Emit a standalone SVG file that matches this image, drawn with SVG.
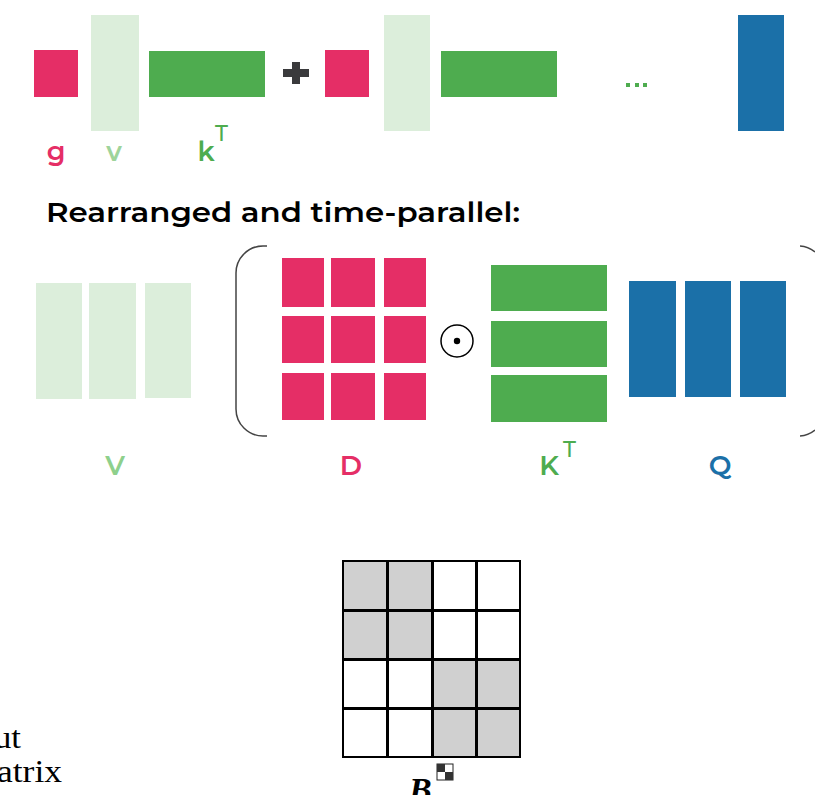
<svg xmlns="http://www.w3.org/2000/svg" width="815" height="795" viewBox="0 0 815 795">
<style>
.pk{fill:#E52E66}.lg{fill:#DCEEDB}.gr{fill:#4EAC4F}.bl{fill:#1B70A8}
.lab{font-family:"Montserrat","Open Sans","Liberation Sans",sans-serif;font-weight:600;font-size:27px;text-anchor:middle}
.sup{font-family:"Montserrat","Open Sans","Liberation Sans",sans-serif;font-weight:500;font-size:22px}
.cell{stroke:#000;stroke-width:2}
.ser{font-family:"Liberation Serif","DejaVu Serif",serif;font-size:32px;fill:#000}
</style>
<rect width="815" height="795" fill="#fff"/>
<g id="top-row">
  <rect class="pk" x="34" y="50" width="44" height="47"/>
  <rect class="lg" x="91" y="15" width="48" height="116"/>
  <rect class="gr" x="149" y="51" width="116" height="46"/>
  <path d="M292 62h8v7h9v8h-9v7h-8v-7h-9v-8h9z" fill="#3a3a3c"/>
  <rect class="pk" x="325" y="50" width="44" height="47"/>
  <rect class="lg" x="384" y="15" width="46" height="116"/>
  <rect class="gr" x="441" y="51" width="116" height="46"/>
  <rect class="gr" x="626" y="83" width="4" height="4"/>
  <rect class="gr" x="635" y="83" width="4" height="4"/>
  <rect class="gr" x="643" y="83" width="4" height="4"/>
  <rect class="bl" x="738" y="15" width="46" height="116"/>
  <text class="lab" x="56" y="161" fill="#E52E66">g</text>
  <text class="lab" x="114" y="161" fill="#9ED49B">v</text>
  <text class="lab" x="206" y="161" fill="#4EAC4F">k</text>
  <text class="sup" x="215" y="141" fill="#4EAC4F">T</text>
</g>
<text id="heading" x="46" y="222" font-family="Montserrat,'Open Sans','Liberation Sans',sans-serif" font-weight="600" font-size="27" fill="#000" textLength="474" lengthAdjust="spacingAndGlyphs">Rearranged and time-parallel:</text>
<g id="V">
  <rect class="lg" x="36" y="283" width="46" height="116"/>
  <rect class="lg" x="89" y="283" width="47" height="116"/>
  <rect class="lg" x="145" y="283" width="46" height="115"/>
  <text class="lab" x="115" y="475" fill="#8ED08C">V</text>
</g>
<g id="brackets" fill="none" stroke="#444" stroke-width="1.5">
  <path d="M267 246h-4a27 27 0 0 0-27 27v136a27 27 0 0 0 27 27h4"/>
  <path d="M800 246a27 27 0 0 1 15 6M800 436a27 27 0 0 0 15-6"/>
</g>
<g id="D">
  <rect class="pk" x="282" y="258" width="42" height="49"/>
  <rect class="pk" x="331" y="258" width="44" height="49"/>
  <rect class="pk" x="384" y="258" width="42" height="49"/>
  <rect class="pk" x="282" y="316" width="42" height="47"/>
  <rect class="pk" x="331" y="316" width="44" height="47"/>
  <rect class="pk" x="384" y="316" width="42" height="47"/>
  <rect class="pk" x="282" y="373" width="42" height="47"/>
  <rect class="pk" x="331" y="373" width="44" height="47"/>
  <rect class="pk" x="384" y="373" width="42" height="47"/>
  <text class="lab" x="351" y="475" fill="#E52E66">D</text>
</g>
<g id="odot">
  <circle cx="457" cy="341" r="16" fill="none" stroke="#000" stroke-width="1.5"/>
  <circle cx="457" cy="341" r="3.2" fill="#000"/>
</g>
<g id="KT">
  <rect class="gr" x="491" y="265" width="116" height="46"/>
  <rect class="gr" x="491" y="321" width="116" height="46"/>
  <rect class="gr" x="491" y="375" width="116" height="47"/>
  <text class="lab" x="549" y="475" fill="#4EAC4F">K</text>
  <text class="sup" x="563" y="457" fill="#4EAC4F">T</text>
</g>
<g id="Q">
  <rect class="bl" x="629" y="281" width="47" height="116"/>
  <rect class="bl" x="685" y="281" width="46" height="116"/>
  <rect class="bl" x="740" y="281" width="46" height="116"/>
  <text class="lab" x="720" y="475" fill="#1B70A8">Q</text>
</g>
<g id="B-matrix">
  <rect class="cell" x="343" y="561" width="44" height="49" fill="#D0D0D0"/>
  <rect class="cell" x="388" y="561" width="44" height="49" fill="#D0D0D0"/>
  <rect class="cell" x="433" y="561" width="43" height="49" fill="#fff"/>
  <rect class="cell" x="477" y="561" width="43" height="49" fill="#fff"/>
  <rect class="cell" x="343" y="611" width="44" height="48" fill="#D0D0D0"/>
  <rect class="cell" x="388" y="611" width="44" height="48" fill="#D0D0D0"/>
  <rect class="cell" x="433" y="611" width="43" height="48" fill="#fff"/>
  <rect class="cell" x="477" y="611" width="43" height="48" fill="#fff"/>
  <rect class="cell" x="343" y="660" width="44" height="48" fill="#fff"/>
  <rect class="cell" x="388" y="660" width="44" height="48" fill="#fff"/>
  <rect class="cell" x="433" y="660" width="43" height="48" fill="#D0D0D0"/>
  <rect class="cell" x="477" y="660" width="43" height="48" fill="#D0D0D0"/>
  <rect class="cell" x="343" y="709" width="44" height="48" fill="#fff"/>
  <rect class="cell" x="388" y="709" width="44" height="48" fill="#fff"/>
  <rect class="cell" x="433" y="709" width="43" height="48" fill="#D0D0D0"/>
  <rect class="cell" x="477" y="709" width="43" height="48" fill="#D0D0D0"/>
  <text x="409" y="801" font-family="'Liberation Serif','DejaVu Serif',serif" font-style="italic" font-weight="bold" font-size="34" fill="#000">B</text>
  <rect x="437" y="764" width="16" height="16" fill="#fff" stroke="#222" stroke-width="1"/>
  <rect x="437" y="764" width="8" height="8" fill="#333"/>
  <rect x="445" y="772" width="8" height="8" fill="#333"/>
</g>
<g id="left-text">
  <text class="ser" x="-6" y="748" textLength="27" lengthAdjust="spacingAndGlyphs">ut</text>
  <text class="ser" x="-3" y="782" textLength="65" lengthAdjust="spacingAndGlyphs">atrix</text>
</g>
</svg>
